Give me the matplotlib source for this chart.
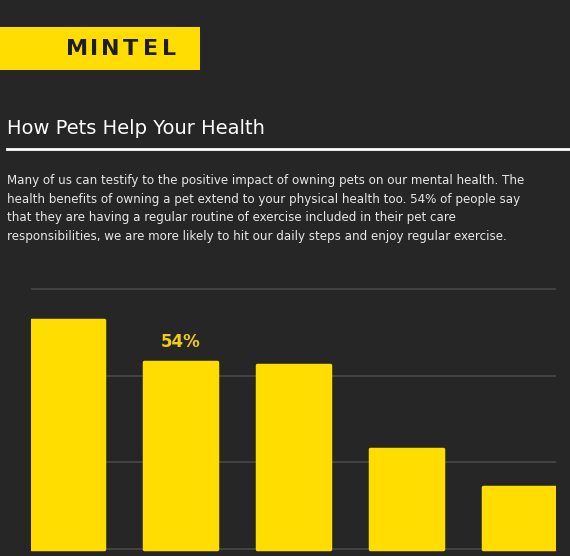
import matplotlib.pyplot as plt
from matplotlib.patches import Rectangle
import numpy as np

# chart data
categories = ['A', 'B', 'C', 'D', 'E']
values = [66, 54, 53, 29, 18]
grid_ticks = [0, 25, 50, 75]
highlight = 1  # bar that gets the label

title = 'How Pets Help Your Health'
body = ('Many of us can testify to the positive impact of owning pets on our mental health. The\n'
        'health benefits of owning a pet extend to your physical health too. 54% of people say\n'
        'that they are having a regular routine of exercise included in their pet care\n'
        'responsibilities, we are more likely to hit our daily steps and enjoy regular exercise.')

bg = '#262626'
yellow = '#FFDD00'

W, H = 570, 556
fig = plt.figure(figsize=(W / 100, H / 100), dpi=100, facecolor=bg)

# header: yellow logo block, letters spaced out like the logo
fig.patches.append(Rectangle((0, 1 - 70 / H), 200 / W, 43 / H, transform=fig.transFigure,
                             facecolor=yellow, edgecolor='none'))
logo = 'MINTEL'
logo_x = [77.5, 94.5, 110, 130.5, 151, 169]
for ch, lx in zip(logo, logo_x):
    fig.text(lx / W, 1 - 55 / H, ch, color='#1e1e1e', fontsize=16, fontweight='bold',
             ha='center', va='baseline')

# title + underline
fig.text(7 / W, 1 - 128 / H, title, color='white', fontsize=14, ha='left', va='center')
fig.lines.append(plt.Line2D([7 / W, 1.0], [1 - 149 / H, 1 - 149 / H], transform=fig.transFigure,
                            color='white', linewidth=2))

# paragraph
fig.text(7 / W, 1 - 174 / H, body, color='#e8e8e8', fontsize=8.6, ha='left', va='top',
         linespacing=1.55)

# bar chart
ax = fig.add_axes([31 / W, 0, 525 / W, 276 / H])
ax.set_facecolor(bg)
x = np.arange(len(categories))
ax.bar(x, values, width=0.65, color=yellow, edgecolor=yellow, linewidth=2.5,
       joinstyle='round', zorder=3)
ax.text(x[highlight], values[highlight] + 3, f'{values[highlight]}%', color='#F0CC1A',
        fontsize=12, fontweight='bold', ha='center', va='bottom')
for g in grid_ticks:
    ax.axhline(g, color='#484848', linewidth=1.2, zorder=1)
ax.set_xlim(-0.325, len(categories) - 1 + 0.325)
ax.set_ylim(-2, 77.6)
ax.axis('off')

fig.savefig('out.png', dpi=100, facecolor=bg)
